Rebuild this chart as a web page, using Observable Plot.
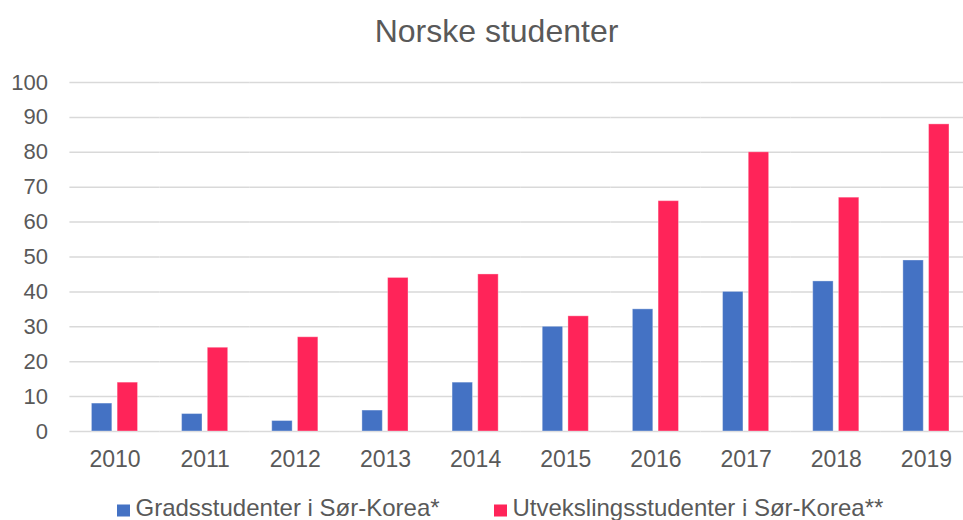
<!DOCTYPE html>
<html>
<head>
<meta charset="utf-8">
<script src="https://cdn.jsdelivr.net/npm/d3@7"></script>
<script src="https://cdn.jsdelivr.net/npm/@observablehq/plot@0.6"></script>
<style>
  html, body { margin: 0; padding: 0; background: #fff; overflow: hidden; width: 963px; height: 520px; }
  body { font-family: "Liberation Sans", Arial, sans-serif; color: #595959; }
  #title { height: 60px; line-height: 62px; text-align: center; font-size: 32px; color: #595959; white-space: nowrap; padding-left: 30px; box-sizing: border-box; width: 963px; }
  #chart svg { display: block; }
  #legend { display: block; }
</style>
</head>
<body>
<div id="title">Norske studenter</div>
<div id="chart"></div>
<svg id="legend" width="963" height="40"></svg>
<script>
const years = ["2010","2011","2012","2013","2014","2015","2016","2017","2018","2019"];
const seriesNames = ["Gradsstudenter i Sør-Korea*", "Utvekslingsstudenter i Sør-Korea**"];
const gradsstudenter = [8, 5, 3, 6, 14, 30, 35, 40, 43, 49];
const utvekslingsstudenter = [14, 24, 27, 44, 45, 33, 66, 80, 67, 88];
const yTicks = [0, 10, 20, 30, 40, 50, 60, 70, 80, 90, 100];
const colors = ["#4472c4", "#ff2459"];

const data = [];
years.forEach((yr, i) => {
  data.push({year: yr, series: seriesNames[0], value: gradsstudenter[i]});
  data.push({year: yr, series: seriesNames[1], value: utvekslingsstudenter[i]});
});

const plot = Plot.plot({
  width: 963,
  height: 420,
  marginTop: 22,
  marginBottom: 49,
  marginLeft: 69.4,
  marginRight: -8,
  style: "max-width:none; background:white; font-family:'Liberation Sans', Arial, sans-serif; overflow:hidden;",
  fx: {domain: years, padding: 0, round: false, label: null},
  x: {domain: seriesNames, paddingInner: 0.206, paddingOuter: 0.857, round: false, axis: null},
  y: {domain: [0, 100], label: null},
  color: {domain: seriesNames, range: colors},
  marks: [
    Plot.ruleY(yTicks, {stroke: "#d9d9d9", strokeWidth: 1.5}),
    Plot.barY(data, {fx: "year", x: "series", y: "value", fill: "series", stroke: "white", strokeOpacity: 0.35, strokeWidth: 1}),
    Plot.axisY({ticks: yTicks, tickSize: 0, tickPadding: 22, fontSize: 22, fill: "#595959", label: null}),
    Plot.axisFx({anchor: "bottom", tickSize: 0, tickPadding: 19, fontSize: 23, fill: "#595959", label: null})
  ]
});
document.getElementById("chart").appendChild(plot);

// legend
const legend = d3.select("#legend");
const items = [
  {name: seriesNames[0], color: colors[0], x: 117},
  {name: seriesNames[1], color: colors[1], x: 494}
];
items.forEach(it => {
  legend.append("rect").attr("x", it.x).attr("y", 24.5).attr("width", 13).attr("height", 12).attr("fill", it.color);
  legend.append("text").attr("x", it.x + 18.5).attr("y", 36.3)
    .attr("font-size", 24).attr("fill", "#595959")
    .attr("font-family", "'Liberation Sans', Arial, sans-serif")
    .text(it.name);
});
</script>
</body>
</html>
